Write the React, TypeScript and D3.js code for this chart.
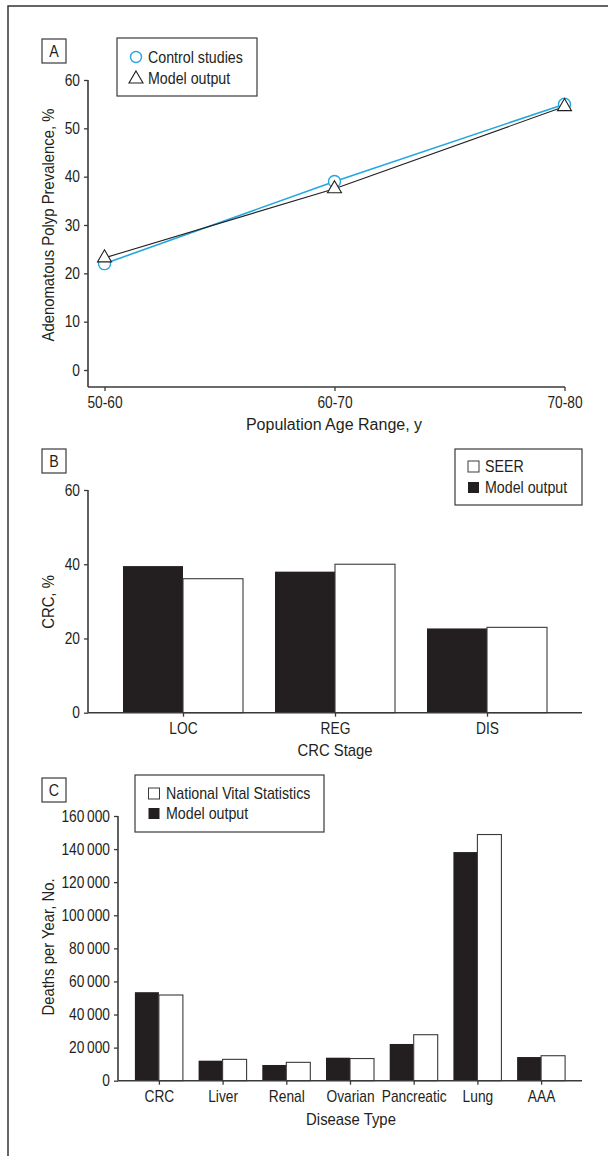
import React, { useEffect, useRef } from 'react'
import * as d3 from 'd3'

// Panel A - adenomatous polyp prevalence
const ageRanges = ['50-60', '60-70', '70-80']
const controlStudies = [22, 39, 55]
const modelPolyp = [23.2, 37.5, 54.5]
const polypTicks = [0, 10, 20, 30, 40, 50, 60]

// Panel B - CRC stage distribution
const stages = ['LOC', 'REG', 'DIS']
const seerPct = [36.1, 40, 23]
const modelStagePct = [39.5, 38, 22.7]
const stageTicks = [0, 20, 40, 60]

// Panel C - deaths per year
const diseases = ['CRC', 'Liver', 'Renal', 'Ovarian', 'Pancreatic', 'Lung', 'AAA']
const vitalStats = [51800, 12900, 11100, 13400, 27800, 148800, 15100]
const modelDeaths = [53500, 12100, 9500, 13900, 22200, 138200, 14300]
const deathTicks = [0, 20000, 40000, 60000, 80000, 100000, 120000, 140000, 160000]

// no condensed font installed, so squeeze Liberation Sans horizontally
const FONT = "'Liberation Sans', Arial, sans-serif"
const INK = '#231f20'
const AXIS = '#3a3a3a'
const CYAN = '#22a7df'
const SX_TICK = 0.86
const SX_LEGEND = 0.89
const SX_TITLE = 0.93

const App = () => {
    const ref = useRef<SVGSVGElement>(null)

    useEffect(() => {
        const svg = d3.select(ref.current)
        svg.selectAll('*').remove()

        const styleAxis = (g: any) => {
            g.select('.domain').remove()
            g.selectAll('.tick line').attr('stroke', AXIS).attr('stroke-width', 1.3)
            g.selectAll('.tick text')
                .attr('fill', INK)
                .attr('font-family', FONT)
                .attr('font-size', 16)
                .attr('x', function (this: any) { return (+this.getAttribute('x') || 0) / SX_TICK })
                .attr('transform', `scale(${SX_TICK},1)`)
        }

        const axisLine = (x1: number, y1: number, x2: number, y2: number) =>
            svg.append('line')
                .attr('x1', x1).attr('y1', y1).attr('x2', x2).attr('y2', y2)
                .attr('stroke', AXIS).attr('stroke-width', 1.6)

        const label = (txt: string, x: number, y: number, sx: number, anchor = 'middle', rotate = false) =>
            svg.append('text')
                .attr('fill', INK)
                .attr('font-family', FONT)
                .attr('font-size', 16)
                .attr('text-anchor', anchor)
                .attr('transform', `translate(${x},${y})${rotate ? ' rotate(-90)' : ''} scale(${sx},1)`)
                .text(txt)

        const panelTag = (txt: string, x: number, y: number) => {
            svg.append('rect')
                .attr('x', x).attr('y', y).attr('width', 24).attr('height', 24)
                .attr('fill', 'white').attr('stroke', AXIS).attr('stroke-width', 1.2)
            label(txt, x + 12, y + 18, SX_LEGEND)
        }

        // outer frame (left and top only)
        svg.append('path')
            .attr('d', 'M8,1156 L8,6 L608,6')
            .attr('fill', 'none').attr('stroke', '#333').attr('stroke-width', 1.5)

        // ---------- Panel A ----------
        const xA = d3.scalePoint<string>().domain(ageRanges).range([104.5, 564.5])
        const yA = d3.scaleLinear().domain([0, 60]).range([370, 80])
        const baseA = 387

        svg.append('g').attr('transform', 'translate(88,0)')
            .call(d3.axisLeft(yA).tickValues(polypTicks).tickSize(4).tickPadding(4))
            .call(styleAxis)
        axisLine(88, yA(60), 88, baseA)
        svg.append('g').attr('transform', `translate(0,${baseA})`)
            .call(d3.axisBottom(xA).tickSize(4).tickPadding(6))
            .call(styleAxis)
        axisLine(88, baseA, 565, baseA)

        const lineA = (vals: number[]) => d3.line<number>()
            .x((_, i) => xA(ageRanges[i]) as number)
            .y(v => yA(v))(vals)

        svg.append('path').attr('d', lineA(controlStudies))
            .attr('fill', 'none').attr('stroke', CYAN).attr('stroke-width', 1.6)
        svg.append('path').attr('d', lineA(modelPolyp))
            .attr('fill', 'none').attr('stroke', INK).attr('stroke-width', 1.1)

        svg.append('g').selectAll('circle').data(controlStudies).join('circle')
            .attr('cx', (_, i) => xA(ageRanges[i]) as number)
            .attr('cy', v => yA(v))
            .attr('r', 6)
            .attr('fill', 'white').attr('stroke', CYAN).attr('stroke-width', 1.4)

        const tri = d3.symbol(d3.symbolTriangle, 85)
        svg.append('g').selectAll('path').data(modelPolyp).join('path')
            .attr('d', tri)
            .attr('transform', (v, i) => `translate(${xA(ageRanges[i])},${yA(v)})`)
            .attr('fill', 'white').attr('stroke', INK).attr('stroke-width', 1.1)

        label('Adenomatous Polyp Prevalence, %', 54, 225, SX_TITLE, 'middle', true)
        label('Population Age Range, y', 334, 430, 1.0)
        panelTag('A', 42, 39)

        // legend A
        svg.append('rect').attr('x', 117).attr('y', 38).attr('width', 140).attr('height', 58)
            .attr('fill', 'white').attr('stroke', AXIS).attr('stroke-width', 1.2)
        svg.append('circle').attr('cx', 136).attr('cy', 57).attr('r', 5.5)
            .attr('fill', 'white').attr('stroke', CYAN).attr('stroke-width', 1.4)
        label('Control studies', 148, 62.5, SX_LEGEND, 'start')
        svg.append('path').attr('d', tri).attr('transform', 'translate(136,79)')
            .attr('fill', 'white').attr('stroke', INK).attr('stroke-width', 1.1)
        label('Model output', 148, 83.5, SX_LEGEND, 'start')

        // ---------- Panel B ----------
        const xB = d3.scalePoint<string>().domain(stages).range([88, 582]).padding(0.625)
        const yB = d3.scaleLinear().domain([0, 60]).range([712.7, 490])
        const wB = 60

        svg.append('g').selectAll('rect').data(modelStagePct).join('rect')
            .attr('x', (_, i) => (xB(stages[i]) as number) - wB)
            .attr('y', v => yB(v))
            .attr('width', wB)
            .attr('height', v => yB(0) - yB(v))
            .attr('fill', INK)
        svg.append('g').selectAll('rect').data(seerPct).join('rect')
            .attr('x', (_, i) => xB(stages[i]) as number)
            .attr('y', v => yB(v))
            .attr('width', wB)
            .attr('height', v => yB(0) - yB(v))
            .attr('fill', 'white').attr('stroke', AXIS).attr('stroke-width', 1.1)

        svg.append('g').attr('transform', 'translate(88,0)')
            .call(d3.axisLeft(yB).tickValues(stageTicks).tickSize(4).tickPadding(4))
            .call(styleAxis)
        axisLine(88, yB(60), 88, yB(0))
        svg.append('g').attr('transform', `translate(0,${yB(0)})`)
            .call(d3.axisBottom(xB).tickSize(4).tickPadding(6))
            .call(styleAxis)
        axisLine(88, yB(0), 582, yB(0))

        label('CRC, %', 54, 602, SX_TITLE, 'middle', true)
        label('CRC Stage', 335, 756, SX_TITLE)
        panelTag('B', 42, 449)

        // legend B
        svg.append('rect').attr('x', 455).attr('y', 449).attr('width', 127).attr('height', 56)
            .attr('fill', 'white').attr('stroke', AXIS).attr('stroke-width', 1.2)
        svg.append('rect').attr('x', 468).attr('y', 461).attr('width', 11).attr('height', 11)
            .attr('fill', 'white').attr('stroke', AXIS).attr('stroke-width', 1)
        label('SEER', 485, 472, SX_LEGEND, 'start')
        svg.append('rect').attr('x', 468).attr('y', 482).attr('width', 11).attr('height', 11)
            .attr('fill', INK)
        label('Model output', 485, 493, SX_LEGEND, 'start')

        // ---------- Panel C ----------
        const xC = d3.scalePoint<string>().domain(diseases).range([118, 582]).padding(0.642)
        const yC = d3.scaleLinear().domain([0, 160000]).range([1080.7, 816])
        const wC = 24
        const fmt = (v: number) => d3.format(',')(v).replace(/,/g, '\u2009')

        svg.append('g').selectAll('rect').data(modelDeaths).join('rect')
            .attr('x', (_, i) => (xC(diseases[i]) as number) - wC)
            .attr('y', v => yC(v))
            .attr('width', wC)
            .attr('height', v => yC(0) - yC(v))
            .attr('fill', INK)
        svg.append('g').selectAll('rect').data(vitalStats).join('rect')
            .attr('x', (_, i) => xC(diseases[i]) as number)
            .attr('y', v => yC(v))
            .attr('width', wC)
            .attr('height', v => yC(0) - yC(v))
            .attr('fill', 'white').attr('stroke', AXIS).attr('stroke-width', 1.1)

        svg.append('g').attr('transform', 'translate(118,0)')
            .call(d3.axisLeft(yC).tickValues(deathTicks).tickSize(4).tickPadding(4).tickFormat(d => fmt(+d)))
            .call(styleAxis)
        axisLine(118, yC(160000), 118, yC(0))
        svg.append('g').attr('transform', `translate(0,${yC(0)})`)
            .call(d3.axisBottom(xC).tickSize(4).tickPadding(6))
            .call(styleAxis)
        axisLine(118, yC(0), 582, yC(0))

        label('Deaths per Year, No.', 54, 947, SX_TITLE, 'middle', true)
        label('Disease Type', 351, 1125, SX_TITLE)
        panelTag('C', 42, 778)

        // legend C
        svg.append('rect').attr('x', 135).attr('y', 775).attr('width', 189).attr('height', 57)
            .attr('fill', 'white').attr('stroke', AXIS).attr('stroke-width', 1.2)
        svg.append('rect').attr('x', 148.5).attr('y', 788).attr('width', 11).attr('height', 11)
            .attr('fill', 'white').attr('stroke', AXIS).attr('stroke-width', 1)
        label('National Vital Statistics', 166, 799, SX_LEGEND, 'start')
        svg.append('rect').attr('x', 148.5).attr('y', 808).attr('width', 11).attr('height', 11)
            .attr('fill', INK)
        label('Model output', 166, 819, SX_LEGEND, 'start')
    }, [])

    return (
        <svg ref={ref} width={608} height={1156}
            style={{ position: 'absolute', left: 0, top: 0, background: 'white' }} />
    )
}

export default App
